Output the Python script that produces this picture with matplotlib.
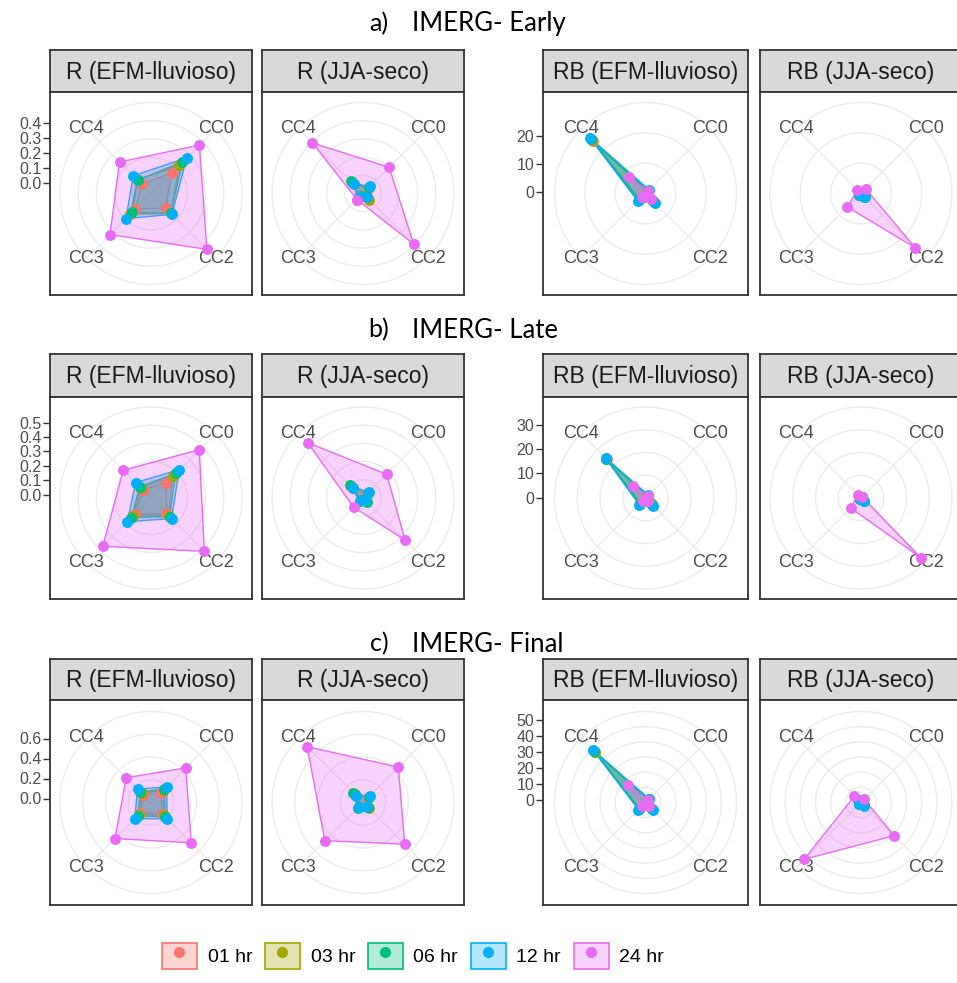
import numpy as np
import matplotlib
matplotlib.use("Agg")
import matplotlib.pyplot as plt
from matplotlib.patches import Patch
from matplotlib.lines import Line2D
from matplotlib.legend_handler import HandlerTuple
from matplotlib.colors import to_rgba

plt.rcParams['font.family'] = ['Liberation Sans', 'DejaVu Sans']

categories = ["CC0", "CC2", "CC3", "CC4"]
horizons = ["01 hr", "03 hr", "06 hr", "12 hr", "24 hr"]
colors = ["#F8766D", "#A3A500", "#00BF7D", "#00B0F6", "#E76BF3"]

# values per horizon (rows) and category CC0, CC2, CC3, CC4 (cols)
# a) IMERG- Early
early_r_wet = [[0.13, 0.07, 0.08, 0.02],
               [0.20, 0.12, 0.13, 0.06],
               [0.23, 0.12, 0.11, 0.06],
               [0.27, 0.13, 0.17, 0.10],
               [0.39, 0.46, 0.32, 0.23]]
early_r_dry = [[-0.02, -0.03, -0.01, 0.02],
               [-0.01, -0.01, -0.04, 0.03],
               [-0.01, -0.04, -0.04, 0.05],
               [0.00, -0.03, -0.03, 0.02],
               [0.18, 0.41, -0.01, 0.41]]
early_rb_wet = [[0.5, 3.0, 2.5, 26.0],
                [1.0, 3.5, 3.0, 26.5],
                [1.0, 3.5, 3.0, 27.0],
                [1.5, 4.3, 3.5, 27.5],
                [1.0, 2.5, 1.5, 7.8]]
early_rb_dry = [[0.3, 0.8, 0.4, 0.4],
                [0.3, 1.0, 0.4, 0.5],
                [0.3, 1.2, 0.5, 0.5],
                [0.3, 1.5, 0.5, 0.5],
                [2.0, 27.0, 6.5, 1.5]]
# b) IMERG- Late
late_r_wet = [[0.13, 0.13, 0.14, 0.06],
              [0.19, 0.15, 0.15, 0.08],
              [0.22, 0.16, 0.17, 0.09],
              [0.255, 0.18, 0.21, 0.13],
              [0.45, 0.50, 0.45, 0.25]]
late_r_dry = [[0.02, 0.00, 0.00, 0.08],
              [0.03, 0.01, 0.00, 0.09],
              [0.03, 0.02, 0.01, 0.106],
              [0.035, 0.00, 0.00, 0.074],
              [0.21, 0.39, 0.07, 0.52]]
late_rb_wet = [[0.8, 3.0, 2.6, 22.4],
               [1.0, 3.5, 3.0, 22.6],
               [1.2, 3.8, 3.2, 22.8],
               [1.5, 4.3, 3.6, 23.0],
               [1.0, 1.5, 1.5, 6.8]]
late_rb_dry = [[0.3, 1.0, 0.4, 0.4],
               [0.3, 1.2, 0.4, 0.5],
               [0.4, 1.3, 0.5, 0.5],
               [0.5, 1.5, 0.5, 0.5],
               [0.5, 34.5, 5.7, 1.8]]
# c) IMERG- Final
final_r_wet = [[0.10, 0.12, 0.11, 0.07],
               [0.14, 0.14, 0.13, 0.09],
               [0.15, 0.16, 0.15, 0.11],
               [0.18, 0.19, 0.19, 0.15],
               [0.45, 0.53, 0.47, 0.31]]
final_r_dry = [[0.03, 0.03, 0.02, 0.07],
               [0.04, 0.044, 0.02, 0.08],
               [0.04, 0.03, 0.035, 0.10],
               [0.054, 0.02, 0.02, 0.054],
               [0.46, 0.55, 0.50, 0.75]]
final_rb_wet = [[1.0, 4.0, 4.0, 43.0],
                [1.2, 4.3, 4.3, 43.5],
                [1.5, 4.6, 4.6, 44.0],
                [2.0, 5.0, 5.0, 45.0],
                [1.0, 2.0, 2.0, 14.0]]
final_rb_dry = [[0.3, 1.0, 0.4, 0.8],
                [0.3, 1.2, 0.4, 0.9],
                [0.4, 1.3, 0.5, 1.0],
                [0.5, 1.5, 0.5, 1.0],
                [1.5, 28.0, 49.0, 4.5]]

row_titles = [("a)", "IMERG- Early"), ("b)", "IMERG- Late"), ("c)", "IMERG- Final")]
strip_labels = ["R (EFM-lluvioso)", "R (JJA-seco)", "RB (EFM-lluvioso)", "RB (JJA-seco)"]
row_data = [[early_r_wet, early_r_dry, early_rb_wet, early_rb_dry],
            [late_r_wet, late_r_dry, late_rb_wet, late_rb_dry],
            [final_r_wet, final_r_dry, final_rb_wet, final_rb_dry]]
# radial limits (R pair, RB pair) for each row
r_limits = [[(-0.067, 0.54), (-0.36, 32.1)],
            [(-0.021, 0.607), (-0.2, 37.3)],
            [(-0.04, 0.87), (-1.25, 55.6)]]
r_ticks = [[[0.0, 0.1, 0.2, 0.3, 0.4], [0, 10, 20]],
           [[0.0, 0.1, 0.2, 0.3, 0.4, 0.5], [0, 10, 20, 30]],
           [[0.0, 0.2, 0.4, 0.6], [0, 10, 20, 30, 40, 50]]]
n_rings = [[5, 3], [5, 4], [4, 6]]

W, H = 957, 983
fig = plt.figure(figsize=(W / 100, H / 100), dpi=100)


def rect(x0, y0, x1, y1):
    return [x0 / W, 1 - y1 / H, (x1 - x0) / W, (y1 - y0) / H]


col_x = [(50, 252), (262, 464), (543, 748), (760, 962)]
row_y = [(50, 92, 295), (354, 397, 599), (659, 700, 905)]
title_y = [24, 330, 644]
R = 91
border = "#333333"
angles = np.pi / 4 + np.arange(len(categories)) * np.pi / 2
theta_closed = np.append(angles, angles[0])
circle_t = np.linspace(0, 2 * np.pi, 200)

for ri in range(3):
    top, sbot, bot = row_y[ri]
    fig.text(379 / W, 1 - title_y[ri] / H, row_titles[ri][0], ha="center", va="center",
             fontsize=18, family="Lato")
    fig.text(412 / W, 1 - title_y[ri] / H, row_titles[ri][1], ha="left", va="center",
             fontsize=18.5, family="Lato")
    for ci in range(4):
        x0, x1 = col_x[ci]
        metric = ci // 2
        vmin, vmax = r_limits[ri][metric]

        sax = fig.add_axes(rect(x0, top, x1, sbot))
        sax.set_facecolor("#D9D9D9")
        sax.set_xticks([])
        sax.set_yticks([])
        for s in sax.spines.values():
            s.set_color(border)
            s.set_linewidth(1.3)
        sax.text(0.5, 0.47, strip_labels[ci], ha="center", va="center",
                 fontsize=16.5, color="#1A1A1A", transform=sax.transAxes)

        fax = fig.add_axes(rect(x0, sbot, x1, bot))
        fax.set_xticks([])
        fax.set_yticks([])
        for s in fax.spines.values():
            s.set_color(border)
            s.set_linewidth(1.3)

        cx = (x0 + x1) / 2
        cy = (sbot + bot) / 2
        pax = fig.add_axes(rect(cx - R, cy - R, cx + R, cy + R), projection="polar")
        pax.set_theta_zero_location("N")
        pax.set_theta_direction(-1)
        pax.set_ylim(vmin, vmax)
        pax.axis("off")

        for j in range(1, n_rings[ri][metric] + 1):
            rv = vmin + (vmax - vmin) * j / n_rings[ri][metric]
            pax.plot(circle_t, np.full_like(circle_t, rv), color="#EBEBEB", lw=1.0,
                     clip_on=False, zorder=1)
        for a in angles:
            pax.plot([a, a], [vmin, vmax], color="#EBEBEB", lw=1.0, clip_on=False, zorder=1)
        for a, cat in zip(angles, categories):
            pax.text(a, vmax + (vmax - vmin) * 0.01, cat, ha="center", va="center",
                     fontsize=13, color="#4D4D4D", zorder=2)

        vals = np.array(row_data[ri][ci])
        for k in range(len(horizons)):
            v = np.append(vals[k], vals[k][0])
            pax.fill(theta_closed, v, facecolor=to_rgba(colors[k], 0.3),
                     edgecolor=colors[k], lw=1.0, zorder=3, clip_on=False)
        for k in range(len(horizons)):
            pax.scatter(angles, vals[k], s=62, color=colors[k], zorder=4,
                        clip_on=False, linewidths=0)

        if ci % 2 == 0:
            tax = fig.add_axes(rect(x0 - 1, cy - R, x0, cy))
            tax.set_ylim(vmin, vmax)
            tax.patch.set_visible(False)
            for s in tax.spines.values():
                s.set_visible(False)
            tax.set_xticks([])
            tk = r_ticks[ri][metric]
            tax.set_yticks(tk)
            if metric == 0:
                tax.set_yticklabels(["%.1f" % t for t in tk])
            else:
                tax.set_yticklabels(["%d" % t for t in tk])
            tax.tick_params(axis="y", direction="out", length=4, width=1.0, color=border,
                            labelsize=11.5, labelcolor="#4D4D4D", pad=1.5)

handles = []
for c in colors:
    handles.append((Patch(facecolor=to_rgba(c, 0.3), edgecolor=c, lw=1.2),
                    Line2D([], [], marker="o", color=c, linestyle="none", markersize=7)))
fig.legend(handles, horizons, loc="center", bbox_to_anchor=(413 / W, 1 - 956 / H),
           ncol=5, frameon=False, fontsize=14, handlelength=1.8, handleheight=1.75,
           handletextpad=0.55, columnspacing=0.65,
           handler_map={tuple: HandlerTuple(ndivide=1)})

fig.savefig("out.png", dpi=100)
